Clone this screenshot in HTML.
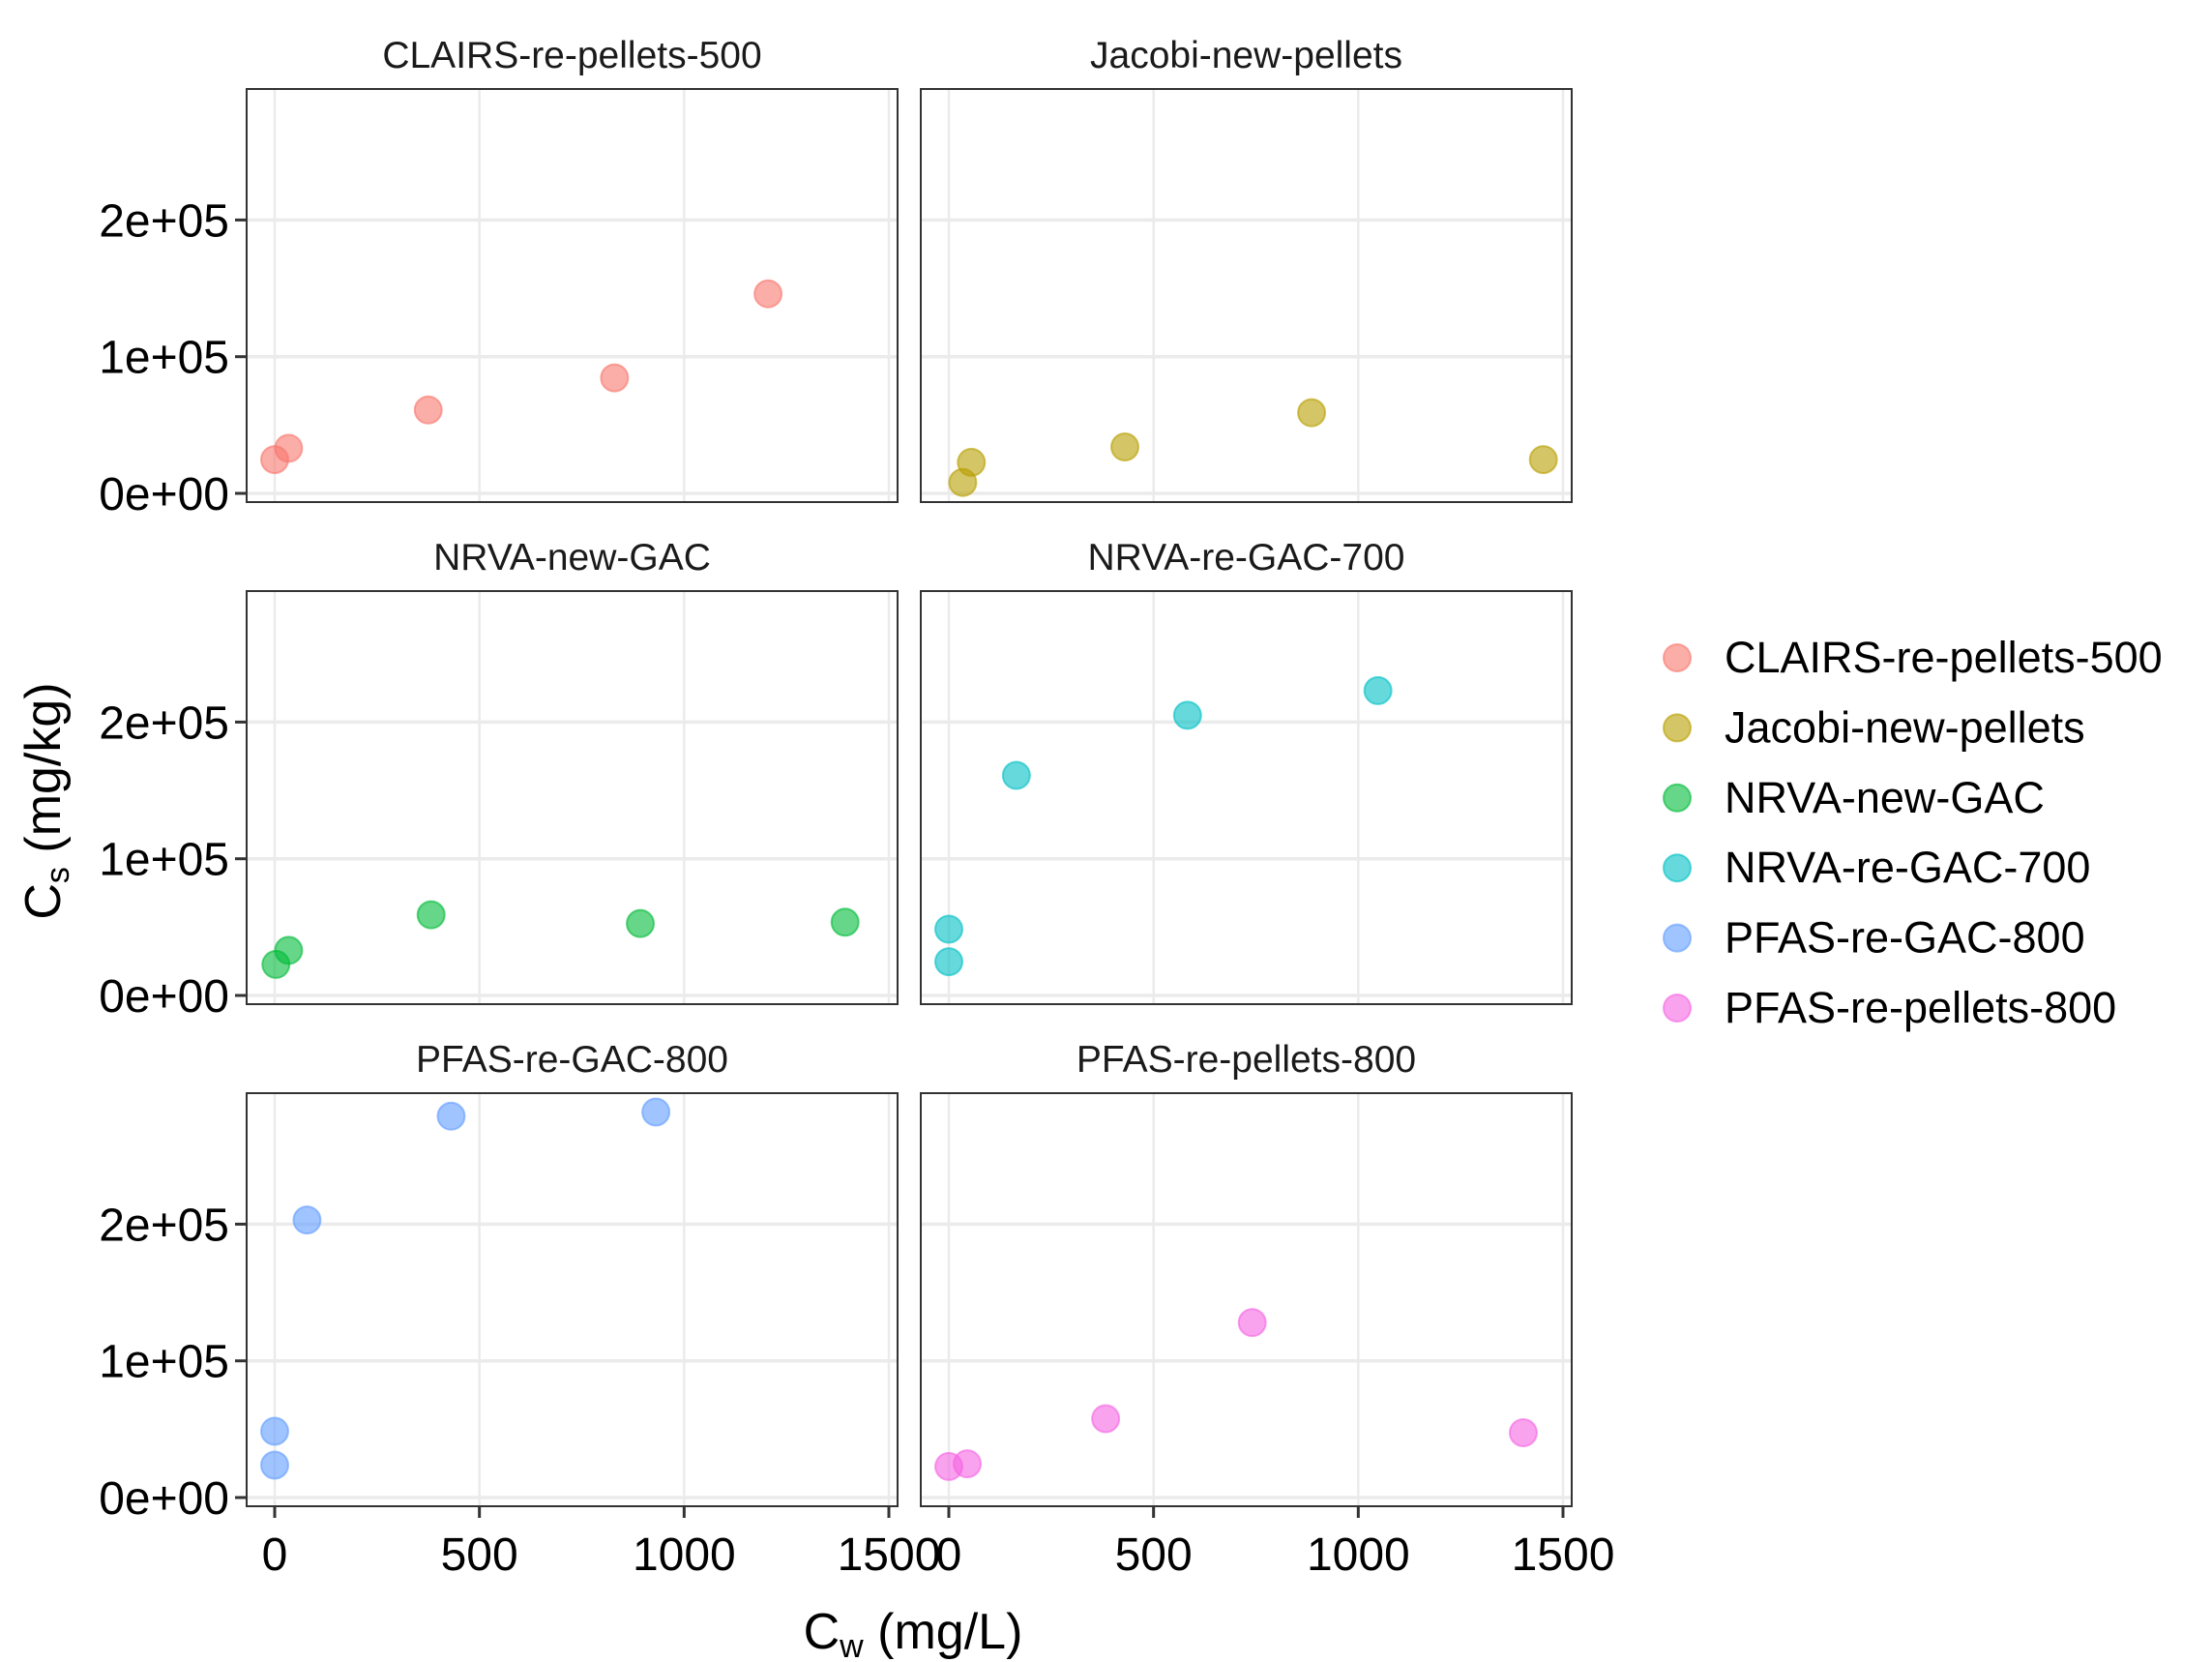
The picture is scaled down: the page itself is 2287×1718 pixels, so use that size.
<!DOCTYPE html>
<html><head><meta charset="utf-8"><style>
html,body{margin:0;padding:0;background:#fff;}
svg{display:block;font-family:"Liberation Sans",Arial,sans-serif;}
</style></head><body>
<svg id="chart" width="2287" height="1718" viewBox="0 0 2287 1718" xmlns="http://www.w3.org/2000/svg">
<rect width="2287" height="1718" fill="#fff"/>
<g id="panels"></g>
<text transform="translate(62,828) rotate(-90)" text-anchor="middle" font-size="52" fill="#000">C<tspan font-size="34" dy="9">s</tspan><tspan dy="-9"> (mg/kg)</tspan></text>
<text x="944" y="1704" text-anchor="middle" font-size="52" fill="#000">C<tspan font-size="34" dy="9">w</tspan><tspan dy="-9"> (mg/L)</tspan></text>
<g id="legend"></g>
</svg>
<script>
const series = ["CLAIRS-re-pellets-500","Jacobi-new-pellets","NRVA-new-GAC","NRVA-re-GAC-700","PFAS-re-GAC-800","PFAS-re-pellets-800"];
const colors = ["#F8766D","#B79F00","#00BA38","#00BFC4","#619CFF","#F564E3"];
const xValues = [
 [0,34,375,830,1205],
 [34,55,430,886,1452],
 [3,34,382,893,1393],
 [0,0,165,583,1048],
 [0,0,79,431,931],
 [0,45,383,741,1403]
];
const yValues = [
 [24700,33000,61000,84500,146000],
 [8000,22700,34000,59000,24700],
 [22700,33000,59000,52600,53600],
 [24700,48500,161000,205000,223000],
 [23700,48500,203000,279000,282000],
 [22700,24700,57700,128000,47400]
];
const xTicks = [0,500,1000,1500];
const xTickLabels = ["0","500","1000","1500"];
const yTicks = [0,100000,200000];
const yTickLabels = ["0e+00","1e+05","2e+05"];

const NS="http://www.w3.org/2000/svg";
function mk(tag,attrs,parent){const e=document.createElementNS(NS,tag);for(const k in attrs)e.setAttribute(k,attrs[k]);parent.appendChild(e);return e;}
const colX=[255,952], rowY=[92,611,1130], PW=673, PH=427;
function sx(col,v){return colX[col]+29+v*(635/1500);}
function sy(row,v){return rowY[row]+PH-9-v*(141.3/100000);}
const panels=document.getElementById('panels');
series.forEach((name,i)=>{
  const col=i%2,row=Math.floor(i/2);
  const g=mk('g',{},panels);
  
  
  const t=mk('text',{x:colX[col]+PW/2,y:rowY[row]-22,'text-anchor':'middle','font-size':'39',fill:'#1a1a1a'},g);
  t.textContent=name;
  
  
  xTicks.forEach(v=>{const l=mk('line',{x1:sx(col,v),x2:sx(col,v),y1:rowY[row],y2:rowY[row]+PH,stroke:'#ebebeb','stroke-width':'2.5'},g);
    });
  yTicks.forEach(v=>{const l=mk('line',{x1:colX[col],x2:colX[col]+PW,y1:sy(row,v),y2:sy(row,v),stroke:'#ebebeb','stroke-width':'3.5'},g);
    });
  xValues[i].forEach((xv,j)=>{
    const c=mk('circle',{cx:sx(col,xv),cy:sy(row,yValues[i][j]),r:14,fill:colors[i],'fill-opacity':'0.6',stroke:colors[i],'stroke-opacity':'0.6','stroke-width':'2'},g);
    
    
  });
  const b=mk('rect',{x:colX[col],y:rowY[row],width:PW,height:PH,fill:'none',stroke:'#333','stroke-width':'2'},g);
  
  if(col===0){
    yTicks.forEach((v,k)=>{
      mk('line',{x1:colX[0]-12,x2:colX[0],y1:sy(row,v),y2:sy(row,v),stroke:'#333','stroke-width':'3'},g);
      const tl=mk('text',{x:colX[0]-18,y:sy(row,v)+17,'text-anchor':'end','font-size':'48',fill:'#000'},g);
      tl.textContent=yTickLabels[k];
      
    });
  }
  if(row===2){
    xTicks.forEach((v,k)=>{
      mk('line',{x1:sx(col,v),x2:sx(col,v),y1:rowY[2]+PH,y2:rowY[2]+PH+12,stroke:'#333','stroke-width':'3'},g);
      const tl=mk('text',{x:sx(col,v),y:rowY[2]+PH+66,'text-anchor':'middle','font-size':'48',fill:'#000'},g);
      tl.textContent=xTickLabels[k];
      
    });
  }
});
const legend=document.getElementById('legend');
series.forEach((name,i)=>{
  const y=680+i*72.4;
  const g=mk('g',{},legend);
  
  
  mk('circle',{cx:1734,cy:y,r:14,fill:colors[i],'fill-opacity':'0.6',stroke:colors[i],'stroke-opacity':'0.6','stroke-width':'2'},g);
  const t=mk('text',{x:1783,y:y+15,'font-size':'45',fill:'#000'},g);
  t.textContent=name;
});
</script>
</body></html>
